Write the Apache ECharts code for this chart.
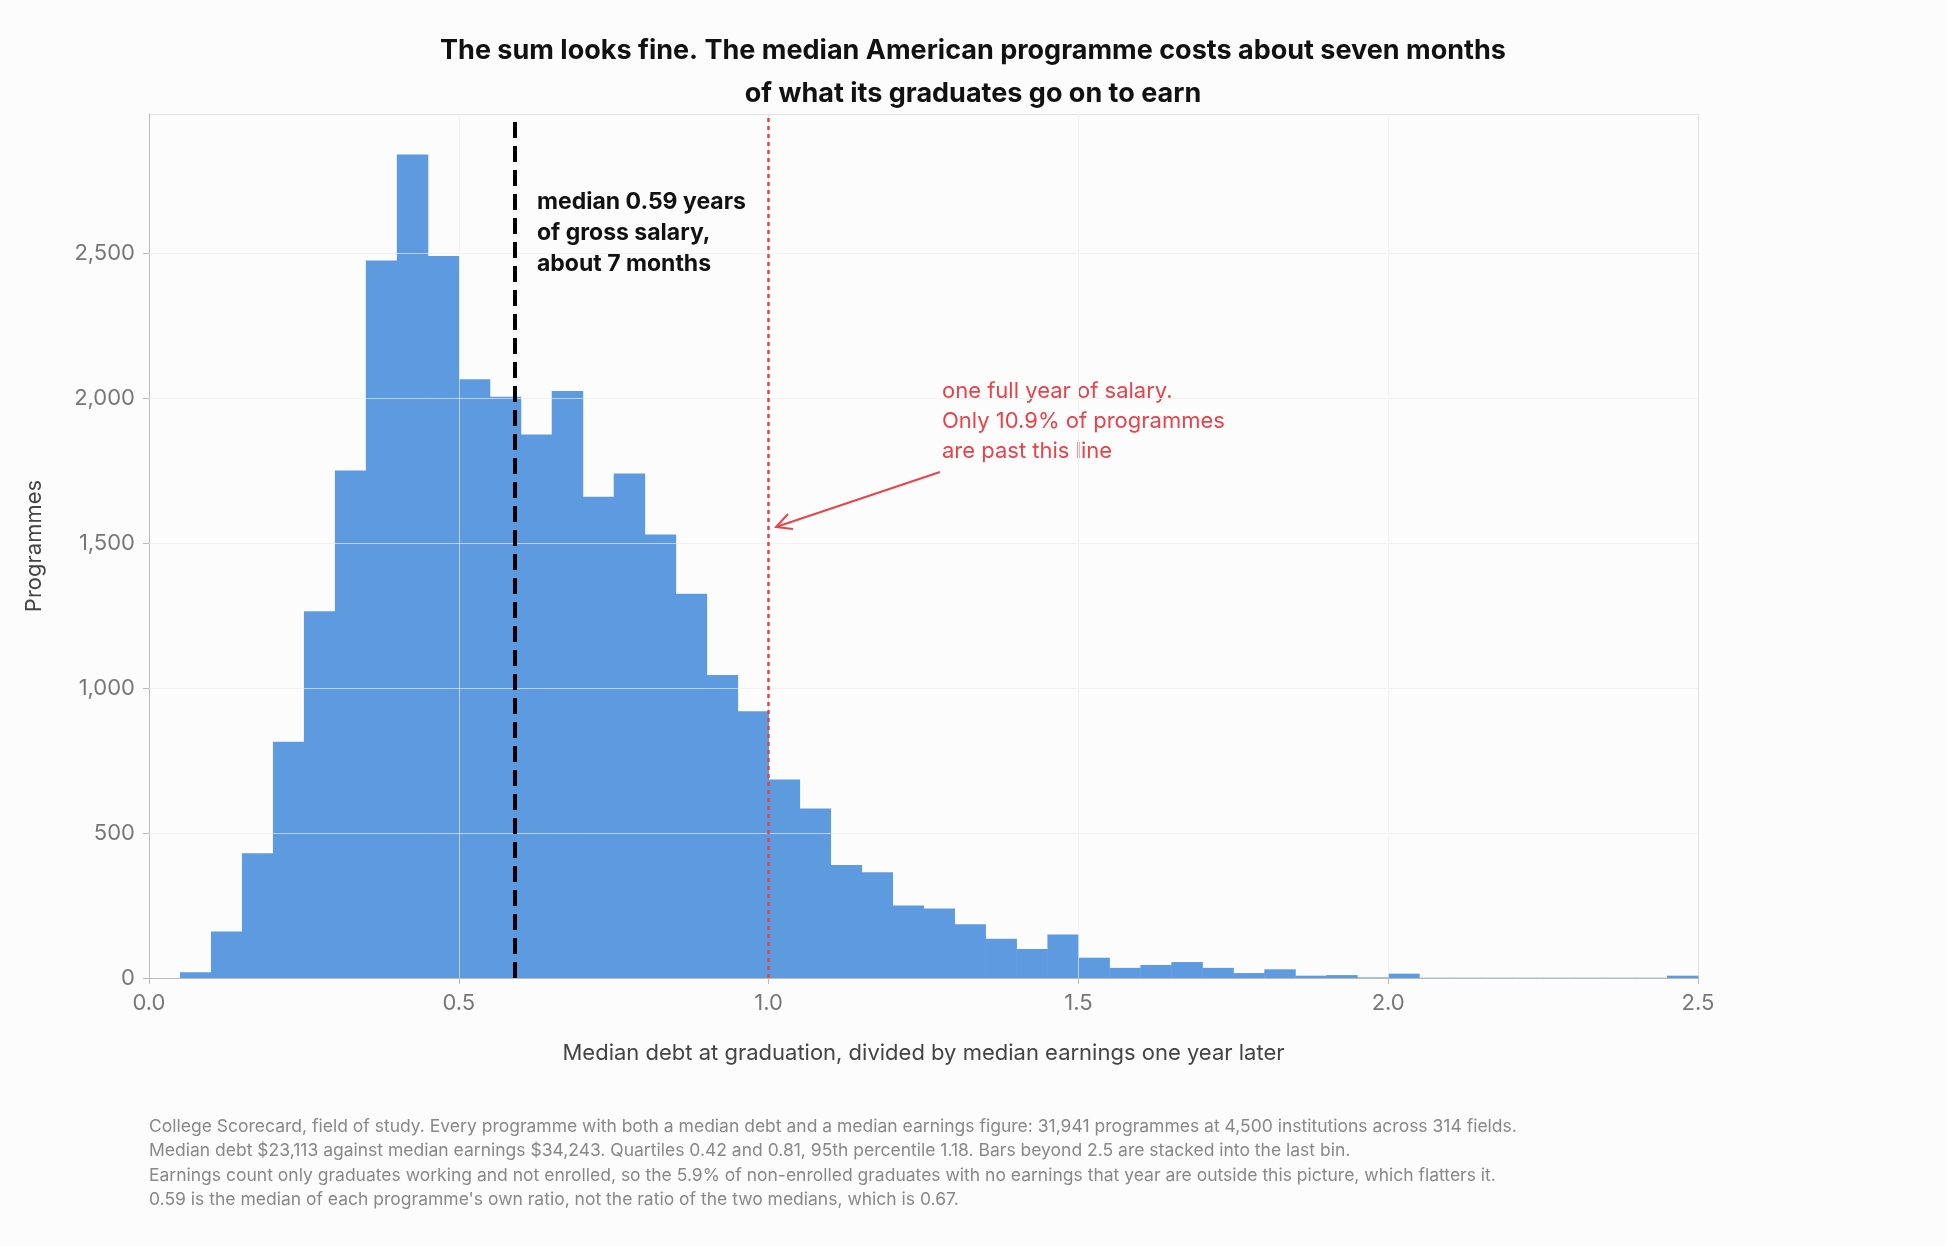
<!DOCTYPE html>
<html><head><meta charset="utf-8">
<script src="https://cdn.jsdelivr.net/npm/echarts@6/dist/echarts.min.js"></script>
<style>html,body{margin:0;background:#fcfcfc}#c{width:1946px;height:1246px}</style>
</head><body><div id="c"></div>
<script>
const binWidth = 0.05;
const binStarts = [];
for (let i = 0; i < 50; i++) binStarts.push(+(i * binWidth).toFixed(2));
const counts = [0,20,160,430,815,1265,1750,2475,2840,2490,
  2065,2005,1875,2025,1660,1740,1530,1325,1045,920,
  685,585,390,365,250,240,185,135,100,150,
  70,35,45,55,35,17,30,8,10,2,
  15,1,1,1,1,1,1,1,1,8];
const xTicks = [0,0.5,1.0,1.5,2.0,2.5];
const medianRatio = 0.59;
const oneYear = 1.0;

const chart = echarts.init(document.getElementById('c'));
const font = 'Inter, "Liberation Sans", sans-serif';
chart.setOption({
  backgroundColor:'#fcfcfc',
  animation:false,
  title:{text:'The sum looks fine. The median American programme costs about seven months\nof what its graduates go on to earn',
    left:'center', top:24, textStyle:{fontFamily:font,fontSize:27,fontWeight:'bold',color:'#111',lineHeight:43}},
  grid:{left:149,right:248,top:114,bottom:268},
  xAxis:{type:'value',min:0,max:2.5,interval:0.5,
    name:'Median debt at graduation, divided by median earnings one year later',
    nameLocation:'middle',nameGap:64,nameTextStyle:{fontFamily:font,fontSize:22,color:'#444'},
    axisLine:{lineStyle:{color:'#bbb'}},axisTick:{show:true,length:6,lineStyle:{color:'#bbb'}},
    axisLabel:{fontFamily:font,fontSize:22,color:'#777',margin:14,formatter:v=>v.toFixed(1)},
    splitLine:{show:true,lineStyle:{color:'#e2e2e2'}}},
  yAxis:{type:'value',min:0,max:2980,interval:500,
    name:'Programmes',nameLocation:'middle',nameGap:104,nameTextStyle:{fontFamily:font,fontSize:22,color:'#444'},
    axisLine:{show:true,lineStyle:{color:'#bbb'}},axisTick:{show:true,length:6,lineStyle:{color:'#bbb'}},
    axisLabel:{fontFamily:font,fontSize:22,color:'#777',margin:14,showMaxLabel:false},
    splitLine:{lineStyle:{color:'#e2e2e2'}}},
  series:[{
    type:'custom',
    data:binStarts.map((s,i)=>[s,s+binWidth,counts[i]]),
    renderItem:function(params,api){
      const p0=api.coord([api.value(0),api.value(2)]);
      const p1=api.coord([api.value(1),0]);
      return {type:'rect',shape:{x:p0[0],y:p0[1],width:p1[0]-p0[0]+0.5,height:p1[1]-p0[1]},
        style:{fill:'#5e9ae0'}};
    },
    z:2
  },{
    type:'line',data:[],z:3,
    markLine:{symbol:'none',silent:true,label:{show:false},
      lineStyle:{color:'rgba(255,255,255,0.55)',type:'solid',width:1},
      data:[{xAxis:0.5},{xAxis:1.5},{xAxis:1000*0+2.0},{yAxis:500},{yAxis:1000},{yAxis:1500},{yAxis:2000},{yAxis:2500}]}
  },{
    type:'line',data:[],z:4,
    markLine:{symbol:'none',silent:true,label:{show:false},
      data:[{xAxis:medianRatio,lineStyle:{color:'#000',type:[16,8],width:4}},
            {xAxis:oneYear,lineStyle:{color:'#e8424a',type:[4,4],width:2.5}}]}
  }],
  graphic:[
    {type:'text',left:537,top:187,style:{text:'median 0.59 years\nof gross salary,\nabout 7 months',
      font:'bold 23px '+font,fill:'#111',lineHeight:31}},
    {type:'text',left:942,top:376,style:{text:'one full year of salary.\nOnly 10.9% of programmes\nare past this line',
      font:'22px '+font,fill:'#e8424a',lineHeight:30}},
    {type:'line',shape:{x1:940,y1:472,x2:776,y2:527},style:{stroke:'#e8424a',lineWidth:2}},
    {type:'polyline',shape:{points:[[788,514],[776,527],[793,529]]},style:{stroke:'#e8424a',lineWidth:2,fill:null}},
    {type:'text',left:149,top:1114,style:{text:"College Scorecard, field of study. Every programme with both a median debt and a median earnings figure: 31,941 programmes at 4,500 institutions across 314 fields.\nMedian debt $23,113 against median earnings $34,243. Quartiles 0.42 and 0.81, 95th percentile 1.18. Bars beyond 2.5 are stacked into the last bin.\nEarnings count only graduates working and not enrolled, so the 5.9% of non-enrolled graduates with no earnings that year are outside this picture, which flatters it.\n0.59 is the median of each programme's own ratio, not the ratio of the two medians, which is 0.67.",
      font:'17.5px '+font,fill:'#888',lineHeight:24.5}}
  ]
});
</script></body></html>
